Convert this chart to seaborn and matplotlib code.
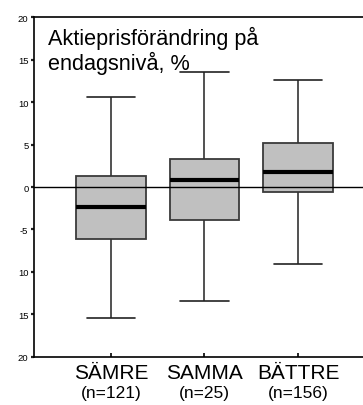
import numpy as np
import pandas as pd
import matplotlib
matplotlib.use("Agg")
import matplotlib.pyplot as plt
import seaborn as sns

# Categories and group sizes
categories = ["SÄMRE", "SAMMA", "BÄTTRE"]
group_n = [121, 25, 156]

# Five-number summaries of the daily share price change (%)
whisker_low = [-15.4, -13.4, -9.1]
quartile_1 = [-6.1, -3.85, -0.6]
median = [-2.35, 0.78, 1.72]
quartile_3 = [1.3, 3.33, 5.13]
whisker_high = [10.6, 13.6, 12.66]

# Y axis tick positions and labels
y_ticks = [20, 15, 10, 5, 0, -5, -10, -15, -20]
y_tick_labels = ["20", "15", "10", "5", "0", "-5", "10", "15", "20"]

title_text = "Aktieprisförändring på\nendagsnivå, %"

# Long-form table: with five values per group the quartiles land exactly
# on the summary values, and whiskers reach min/max.
rows = []
for i, cat in enumerate(categories):
    for v in (whisker_low[i], quartile_1[i], median[i], quartile_3[i], whisker_high[i]):
        rows.append({"grupp": cat, "andring": v})
df = pd.DataFrame(rows)

sns.set_style("ticks")
plt.rcParams["font.family"] = ["Liberation Sans", "DejaVu Sans"]
plt.rcParams["text.color"] = "black"
plt.rcParams["xtick.color"] = "black"
plt.rcParams["ytick.color"] = "black"
plt.rcParams["xtick.labelcolor"] = "black"
plt.rcParams["ytick.labelcolor"] = "black"

fig = plt.figure(figsize=(3.63, 4.06), dpi=100)
ax = fig.add_axes([34 / 363, 48.3 / 406, 1 - 34 / 363, 339.4 / 406])

edge = "#3a3a3a"
sns.boxplot(
    data=df, x="grupp", y="andring", order=categories, ax=ax,
    whis=np.inf, width=0.74, color="#c0c0c0", saturation=1,
    linecolor=edge, linewidth=1.3,
    medianprops={"color": "black", "linewidth": 3, "zorder": 5},
    whiskerprops={"color": "#333333", "linewidth": 1.2},
    capprops={"color": "#222222", "linewidth": 1.2},
    boxprops={"edgecolor": edge, "linewidth": 1.3, "zorder": 2},
)

# Narrow the whisker caps relative to the boxes
cap_half = 0.26
for line in ax.lines:
    xd = np.asarray(line.get_xdata(), dtype=float)
    yd = np.asarray(line.get_ydata(), dtype=float)
    if len(xd) == 2 and yd[0] == yd[1] and xd[0] != xd[1]:
        c = xd.mean()
        w = abs(xd[1] - xd[0])
        if w < 0.7:
            line.set_xdata([c - cap_half, c + cap_half])

ax.axhline(0, color="black", linewidth=1.0, zorder=3)

ax.set_ylim(-20, 20)
ax.set_xlim(-0.823, 2.695)
ax.set_yticks(y_ticks)
ax.set_yticklabels(y_tick_labels, fontsize=6.8, color="black")
ax.tick_params(axis="y", direction="out", length=2, width=1.6, pad=2, color="#222222")
ax.tick_params(axis="x", direction="in", length=3, width=1.2, color="black")
ax.set_xticks(range(len(categories)))
ax.set_xticklabels([])
ax.set_xlabel("")
ax.set_ylabel("")

for s in ("left", "top", "bottom"):
    ax.spines[s].set_visible(True)
    ax.spines[s].set_color("black")
    ax.spines[s].set_linewidth(1.2)
ax.spines["right"].set_visible(False)

# Category names with group sizes below the axis
for i, (cat, n) in enumerate(zip(categories, group_n)):
    ax.annotate(cat, xy=(i, 0), xycoords=("data", "axes fraction"),
                xytext=(0, -15.3), textcoords="offset points",
                ha="center", va="baseline", fontsize=15, color="black")
    ax.annotate(f"(n={n})", xy=(i, 0), xycoords=("data", "axes fraction"),
                xytext=(0, -29), textcoords="offset points",
                ha="center", va="baseline", fontsize=12.5, color="black")

ax.text(48 / 363, 1 - 27 / 406, title_text, transform=fig.transFigure,
        ha="left", va="top", fontsize=15.6, linespacing=1.1, color="black")

fig.savefig("out.png", dpi=100)
